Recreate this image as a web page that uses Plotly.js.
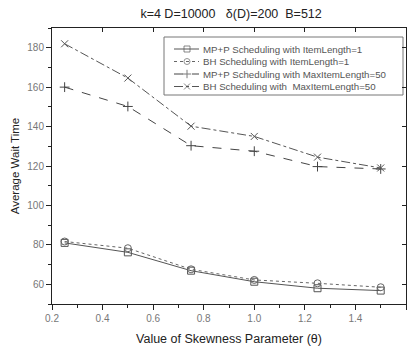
<!DOCTYPE html>
<html><head><meta charset="utf-8">
<script src="https://cdn.plot.ly/plotly-3.0.1.min.js"></script>
<style>html,body{margin:0;padding:0;background:#fff}#chart{width:409px;height:348px}</style>
</head><body><div id="chart"></div>
<script>
var theta = [0.25, 0.5, 0.75, 1.0, 1.25, 1.5];
var mppItem1 = [81, 76.2, 66.9, 61.3, 58, 56.8];
var bhItem1 = [81.7, 78.3, 67.6, 62.2, 60.5, 58.5];
var mppMax50 = [160, 150.2, 130.3, 127.5, 119.7, 118.5];
var bhMax50 = [182, 164.6, 140.2, 135, 124.5, 119];
var names = ["MP+P Scheduling with ItemLength=1", "BH Scheduling with ItemLength=1",
  "MP+P Scheduling with MaxItemLength=50", "BH Scheduling with  MaxItemLength=50"];
var xTicks = [0.2, 0.4, 0.6, 0.8, 1.0, 1.2, 1.4, 1.6];
var xTickText = ["0.2", "0.4", "0.6", "0.8", "1.0", "1.2", "1.4", "1.6"];
var yTicks = [60, 80, 100, 120, 140, 160, 180];

var ff = "Liberation Sans, Arial, sans-serif";
var series = [mppItem1, bhItem1, mppMax50, bhMax50];
var dashes = ['solid', 'dot', 'dash', 'dashdot'];
var symbols = ['square-open', 'circle-open', 'cross-thin', 'x-thin'];
var colors = ['#555', '#666', '#444', '#555'];

var data = [];
for (var i = 0; i < 4; i++) {
  data.push({x: theta, y: series[i], name: names[i], type: 'scatter', mode: 'lines+markers',
    line: {color: colors[i], width: 1, dash: dashes[i]},
    marker: {symbol: symbols[i], size: 7, color: colors[i], line: {color: colors[i], width: 1}},
    showlegend: false});
}

// Custom legend drawn on a helper axis pair measured in pixels (x: 52..406, y: 304..28)
var legRowY = [49, 61.5, 74, 86.5];
var shapes = [{type: 'rect', xref: 'x3', yref: 'y3', x0: 164, x1: 403, y0: 37, y1: 95,
  line: {color: '#777', width: 1}, fillcolor: '#fff', layer: 'below'}];
var annotations = [];
for (var j = 0; j < 4; j++) {
  data.push({x: [174, 187, 199], y: [legRowY[j], legRowY[j], legRowY[j]], xaxis: 'x3', yaxis: 'y3',
    mode: 'lines+markers', showlegend: false, hoverinfo: 'skip',
    line: {color: colors[j], width: 1, dash: dashes[j]},
    marker: {symbol: symbols[j], size: [0, 6, 0], color: colors[j], line: {color: colors[j], width: 1}}});
  annotations.push({xref: 'x3', yref: 'y3', x: 201, y: legRowY[j], xanchor: 'left', yanchor: 'middle',
    text: names[j], showarrow: false, font: {size: 9.7, color: '#555', family: ff}});
}

var layout = {
  width: 409, height: 348,
  margin: {l: 52, r: 3, t: 28, b: 44},
  paper_bgcolor: '#fff', plot_bgcolor: '#fff',
  font: {family: ff, color: '#333'},
  title: {text: 'k=4 D=10000   δ(D)=200  B=512', font: {size: 12.5, color: '#222', family: ff},
    x: 0.565, xanchor: 'center', y: 0.962, yanchor: 'middle'},
  xaxis: {range: [0.2, 1.6], tickvals: xTicks, ticktext: xTickText, ticks: 'outside', ticklen: 5,
    tickcolor: '#222', linecolor: '#222', linewidth: 1, showline: true, showgrid: false, zeroline: false,
    tickfont: {size: 10, color: '#777'},
    minor: {dtick: 0.1, ticks: 'outside', ticklen: 3, tickcolor: '#222', showgrid: false},
    title: {text: 'Value of Skewness Parameter (θ)', font: {size: 12.5, color: '#222'}, standoff: 11}},
  yaxis: {range: [50, 190], tickvals: yTicks, ticks: 'outside', ticklen: 5,
    tickcolor: '#222', linecolor: '#222', linewidth: 1, showline: true, showgrid: false, zeroline: false,
    tickfont: {size: 10, color: '#777'},
    minor: {dtick: 10, ticks: 'outside', ticklen: 3, tickcolor: '#222', showgrid: false},
    title: {text: 'Average Wait Time', font: {size: 11.5, color: '#222'}, standoff: 5}},
  xaxis2: {overlaying: 'x', side: 'top', range: [0.2, 1.6], tickvals: xTicks, showticklabels: false,
    ticks: 'inside', ticklen: 4, tickcolor: '#222', showline: true, linecolor: '#222', showgrid: false, zeroline: false},
  yaxis2: {overlaying: 'y', side: 'right', range: [50, 190], tickvals: yTicks, showticklabels: false,
    ticks: 'inside', ticklen: 4, tickcolor: '#222', showline: true, linecolor: '#222', showgrid: false, zeroline: false},
  xaxis3: {overlaying: 'x', range: [52, 406], visible: false, fixedrange: true},
  yaxis3: {overlaying: 'y', range: [304, 28], visible: false, fixedrange: true},
  showlegend: false,
  shapes: shapes,
  annotations: annotations
};
data.push({x: [0.2], y: [50], xaxis: 'x2', yaxis: 'y2', mode: 'markers', marker: {opacity: 0}, showlegend: false, hoverinfo: 'skip'});
Plotly.newPlot('chart', data, layout, {staticPlot: true});
</script></body></html>
